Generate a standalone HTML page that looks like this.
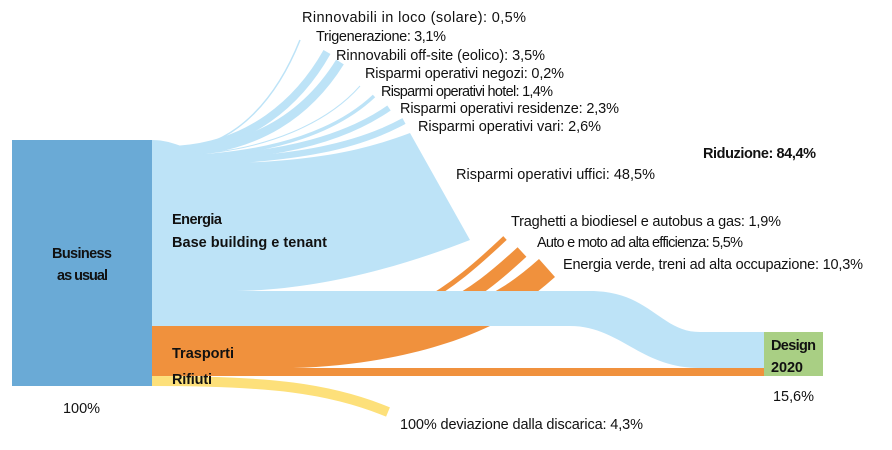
<!DOCTYPE html>
<html><head><meta charset="utf-8"><style>
html,body{margin:0;padding:0;background:#fff;}
svg{display:block;}
text{font-family:"Liberation Sans Narrow","Liberation Sans",sans-serif;font-size:14.5px;fill:#111;}
.b{font-weight:bold;}
</style></head><body>
<svg width="892" height="450" viewBox="0 0 892 450" xmlns="http://www.w3.org/2000/svg">
<g fill="none" stroke="#f0913d" stroke-linecap="butt">
<path d="M300,333 C400,330 450,290 505,238" stroke-width="5"/>
<path d="M330,333 C430,328 470,300 522,252" stroke-width="13"/>
<path d="M360,333 C460,328 500,310 547,268" stroke-width="24"/>
</g>
<path d="M152,326 L490,326 C440,350 370,366 293,368 L764,368 L764,376 L152,376 Z" fill="#f0913d"/>
<path d="M152,381 C270,381 330,388 388,412" fill="none" stroke="#fde07a" stroke-width="10"/>
<g fill="none" stroke="#bde3f7" stroke-linecap="butt">
<path d="M170,150 C240,150 280,90 300,40" stroke-width="1.5"/>
<path d="M170,150 C250,148 300,100 327,52" stroke-width="8"/>
<path d="M175,152 C260,150 310,110 340,62" stroke-width="9"/>
<path d="M180,155 C270,152 330,120 360,86" stroke-width="1"/>
<path d="M180,157 C280,154 340,128 374,96" stroke-width="3.5"/>
<path d="M185,159 C290,156 350,135 389,108" stroke-width="6"/>
<path d="M185,162 C300,160 360,145 404,121" stroke-width="6.5"/>
</g>
<path d="M152,140 C185,140 200,164 260,162 C330,158 370,148 410,133 L470,240 C380,275 300,291 230,291 L152,291 Z" fill="#bde3f7"/>
<path d="M152,291 L590,291 C650,291 660,332 700,332 L764,332 L764,368 L700,368 C640,368 620,326 570,326 L152,326 Z" fill="#bde3f7"/>
<rect x="12" y="140" width="140" height="246" fill="#6aaad6"/>
<rect x="764" y="332" width="59" height="44" fill="#a9cf84"/>
<g>
<text x="302" y="22" textLength="224" lengthAdjust="spacing">Rinnovabili in loco (solare): 0,5%</text>
<text x="316" y="41" textLength="130" lengthAdjust="spacing">Trigenerazione: 3,1%</text>
<text x="336" y="60" textLength="209" lengthAdjust="spacing">Rinnovabili off-site (eolico): 3,5%</text>
<text x="365" y="78" textLength="199" lengthAdjust="spacing">Risparmi operativi negozi: 0,2%</text>
<text x="381" y="96" textLength="172" lengthAdjust="spacing">Risparmi operativi hotel: 1,4%</text>
<text x="400" y="113" textLength="219" lengthAdjust="spacing">Risparmi operativi residenze: 2,3%</text>
<text x="418" y="131" textLength="183" lengthAdjust="spacing">Risparmi operativi vari: 2,6%</text>
<text class="b" x="703" y="158" textLength="113" lengthAdjust="spacing">Riduzione: 84,4%</text>
<text x="456" y="179" textLength="199" lengthAdjust="spacing">Risparmi operativi uffici: 48,5%</text>
<text x="511" y="226" textLength="270" lengthAdjust="spacing">Traghetti a biodiesel e autobus a gas: 1,9%</text>
<text x="537" y="247" textLength="206" lengthAdjust="spacing">Auto e moto ad alta efficienza: 5,5%</text>
<text x="563" y="269" textLength="300" lengthAdjust="spacing">Energia verde, treni ad alta occupazione: 10,3%</text>
<text class="b" x="172" y="224" textLength="50" lengthAdjust="spacing">Energia</text>
<text class="b" x="172" y="247" textLength="155" lengthAdjust="spacing">Base building e tenant</text>
<text class="b" x="52" y="258" textLength="60" lengthAdjust="spacing">Business</text>
<text class="b" x="57" y="280" textLength="51" lengthAdjust="spacing">as usual</text>
<text class="b" x="172" y="358" textLength="62" lengthAdjust="spacing">Trasporti</text>
<text class="b" x="172" y="384" textLength="40" lengthAdjust="spacing">Rifiuti</text>
<text x="63" y="413" textLength="37" lengthAdjust="spacing">100%</text>
<text class="b" x="771" y="350" textLength="45" lengthAdjust="spacing">Design</text>
<text class="b" x="771" y="372" textLength="32" lengthAdjust="spacing">2020</text>
<text x="773" y="401" textLength="41" lengthAdjust="spacing">15,6%</text>
<text x="400" y="429" textLength="243" lengthAdjust="spacing">100% deviazione dalla discarica: 4,3%</text>
</g>
</svg>
</body></html>
